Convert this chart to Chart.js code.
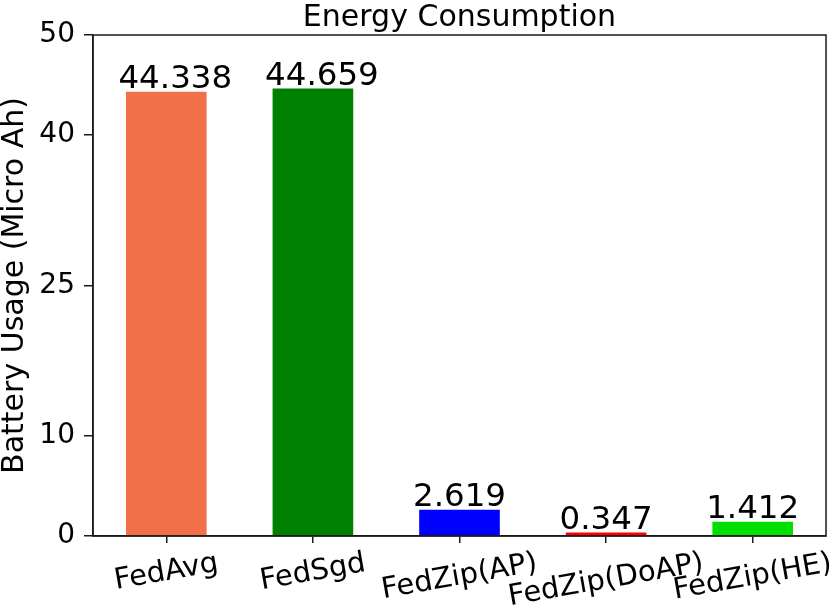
<!DOCTYPE html>
<html><head><meta charset="utf-8">
<script src="https://cdn.jsdelivr.net/npm/chart.js@4.4.0/dist/chart.umd.min.js"></script>
<style>html,body{margin:0;padding:0;background:#fff}#wrap{width:831px;height:613px;position:relative}</style>
</head><body><div id="wrap"><canvas id="c"></canvas></div>
<script>
const categories = ['FedAvg', 'FedSgd', 'FedZip(AP)', 'FedZip(DoAP)', 'FedZip(HE)'];
const batteryUsage = [44.338, 44.659, 2.619, 0.347, 1.412];
const barColors = ['#F1704A', '#008000', '#0000FF', '#FF0000', '#00E000'];
const yTickValues = [0, 10, 25, 40, 50];
const chartTitle = 'Energy Consumption';
const yAxisTitle = 'Battery Usage (Micro Ah)';
const FONT = "'DejaVu Sans', sans-serif";
const AXIS = '#1a1a1a';

const overlay = {
  id: 'overlay',
  afterDatasetsDraw(chart, args, opts) {
    const {ctx, chartArea: a, scales: {x}} = chart;
    const shift = opts.labelShift || [];
    ctx.save();
    ctx.strokeStyle = AXIS; ctx.lineWidth = 1.5;
    ctx.strokeRect(a.left, a.top, a.right - a.left, a.bottom - a.top);
    const meta = chart.getDatasetMeta(0);
    ctx.fillStyle = '#000';
    ctx.font = `32.5px ${FONT}`; ctx.textAlign = 'center'; ctx.textBaseline = 'alphabetic';
    meta.data.forEach((bar, i) => { ctx.fillText(batteryUsage[i].toFixed(3), bar.x + (shift[i] || 0), bar.y - 4); });
    ctx.font = `30px ${FONT}`;
    ctx.fillText(chartTitle, (a.left + a.right) / 2, 26);
    const fs = 29;
    ctx.font = `${fs}px ${FONT}`;
    const ang = 10 * Math.PI / 180;
    categories.forEach((lab, i) => {
      const px = x.getPixelForTick(i);
      const w = ctx.measureText(lab).width, h = fs * 1.15;
      const halfH = (w * Math.sin(ang) + h * Math.cos(ang)) / 2;
      const cy = a.bottom + 11 + halfH;
      ctx.save(); ctx.translate(px, cy); ctx.rotate(-ang);
      ctx.textBaseline = 'middle'; ctx.fillText(lab, 0, 0); ctx.restore();
    });
    ctx.restore();
  }
};

new Chart(document.getElementById('c'), {
  type: 'bar',
  data: {labels: categories, datasets: [{data: batteryUsage, backgroundColor: barColors, borderWidth: 0, barPercentage: 0.55, categoryPercentage: 1.0}]},
  options: {
    responsive: true, maintainAspectRatio: false, animation: false, devicePixelRatio: 1,
    layout: {padding: {top: 35, right: 5, left: 0, bottom: 0}},
    plugins: {legend: {display: false}, title: {display: false}, tooltip: {enabled: false}, overlay: {labelShift: [9, 9, 0, 0, 0]}},
    scales: {
      x: {
        grid: {display: true, offset: false, drawOnChartArea: false, drawTicks: true, tickLength: 7, color: AXIS, lineWidth: 1.5},
        border: {display: true, color: AXIS, width: 1.5},
        ticks: {display: false},
        afterFit(s) { s.height = 77; }
      },
      y: {
        min: 0, max: 50,
        afterBuildTicks(s) { s.ticks = yTickValues.map(v => ({value: v})); },
        grid: {drawOnChartArea: false, tickLength: 9, color: AXIS, lineWidth: 1.5},
        border: {color: AXIS, width: 1.5},
        ticks: {font: {family: FONT, size: 28}, color: '#000', padding: 9},
        title: {display: true, text: yAxisTitle, font: {family: FONT, size: 30, lineHeight: 1.0}, color: '#000', padding: 0},
        afterFit(s) { s.width = 93; }
      }
    }
  },
  plugins: [overlay]
});
</script></body></html>
